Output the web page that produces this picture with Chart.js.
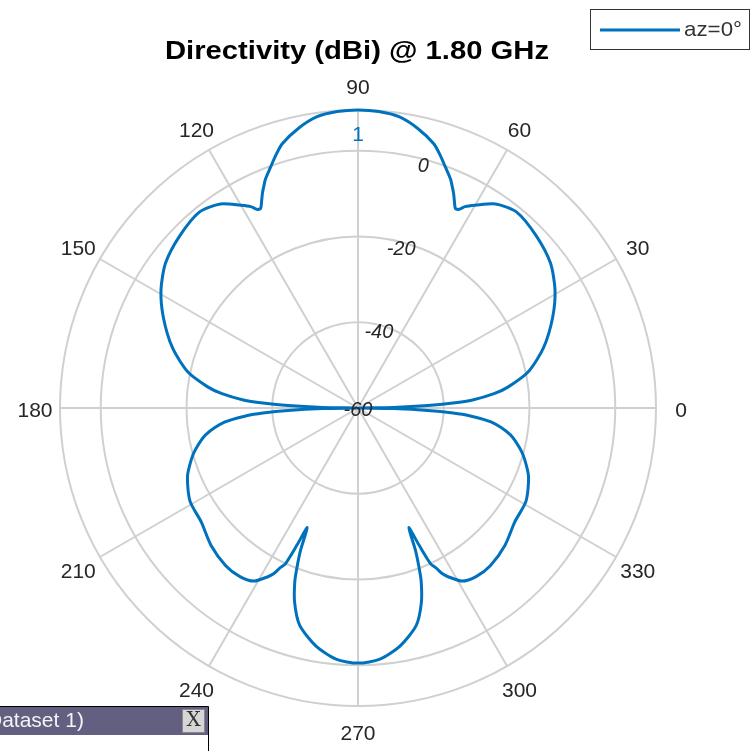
<!DOCTYPE html>
<html>
<head>
<meta charset="utf-8">
<title>Directivity</title>
<script src="https://cdn.jsdelivr.net/npm/chart.js@4.4.1/dist/chart.umd.min.js"></script>
<style>
    html, body { margin: 0; padding: 0; background: #fff; }
</style>
</head>
<body>
<canvas id="canvas" width="752" height="751"></canvas>
<script>
// Azimuth cut of the directivity pattern, degrees counter-clockwise from +x
var azimuth = [
    0, 1, 2, 3, 4, 6, 8, 12, 18, 25, 31, 37, 44, 51, 56, 60, 62, 63, 64, 65,
    66, 67, 68, 70, 72, 74, 78, 82, 86, 90,
    94, 98, 102, 106, 108, 110, 112, 113, 114, 115, 116, 117, 118, 120, 124, 129, 136, 143, 149, 155,
    162, 168, 172, 174, 176, 177, 178, 179, 180,
    181, 182, 183, 184, 186, 190, 194, 197, 202, 209, 216, 223, 230, 235, 239, 242, 243, 244, 245, 246,
    247, 248, 249, 250, 252, 255, 260, 265, 270,
    275, 280, 285, 288, 290, 291, 292, 293, 294, 295, 296, 297, 298, 301, 305, 310, 317, 324, 331, 338,
    343, 346, 350, 354, 356, 357, 358, 359
];
// dBi, clipped at the -60 floor of the plot
var directivity = [
    -60, -51.8, -43.7, -37.8, -33.2, -28.1, -24.6, -19.4, -14.5, -9.9, -6.4, -3.8, -2.2, -1.2, -2.6, -5.4, -6.8, -8.0, -8.2, -6.8,
    -5.2, -3.8, -2.4, -0.3, 2.0, 4.1, 6.7, 8.6, 9.3, 9.5,
    9.3, 8.6, 6.7, 4.1, 2.0, -0.3, -2.4, -3.8, -5.2, -6.8, -8.2, -8.0, -6.8, -5.4, -2.6, -1.2, -2.2, -3.8, -6.4, -9.9,
    -14.5, -19.4, -24.6, -28.1, -33.2, -37.8, -43.7, -51.8, -60,
    -51.8, -43.7, -37.8, -33.9, -28.8, -23.9, -21.1, -19.4, -17.1, -15.2, -14.8, -13.1, -12.0, -12.0, -12.9, -15.5, -16.6, -18.5, -19.9, -25.0,
    -29.7, -24.3, -20.4, -16.9, -12.2, -7.5, -3.6, -1.2, -0.5,
    -1.2, -3.6, -7.5, -12.2, -16.9, -20.4, -24.3, -29.7, -25.0, -19.9, -18.5, -16.6, -15.5, -12.9, -12.0, -12.0, -13.1, -14.8, -15.2, -17.1,
    -19.4, -21.1, -23.9, -28.8, -33.9, -37.8, -43.7, -51.8
];
var magTicks = [-60, -40, -20, 0];
var magMin = -60;
var magMax = 9.5;
var angleTicks = [0, 30, 60, 90, 120, 150, 180, 210, 240, 270, 300, 330];

var BLUE = '#0072BD';
var GRID = '#d0d0d0';
var TEXT = '#262626';
var FONT = '"Liberation Sans", Arial, sans-serif';

// radar spokes run clockwise from the top, one per degree
function spokeFor(az) {
    return (90 - az + 360) % 360;
}
var labels = [];
var values = [];
for (var i = 0; i < 360; i++) {
    labels.push(String((90 - i + 360) % 360));
    values.push(null);
}
azimuth.forEach(function (az, k) {
    values[spokeFor(az)] = directivity[k];
});

// text squeezed or stretched to a given width
function fitText(ctx, text, x, y, width) {
    var w = ctx.measureText(text).width;
    ctx.save();
    ctx.translate(x, y);
    ctx.scale(width / w, 1);
    ctx.fillText(text, 0, 0);
    ctx.restore();
}

var decorations = {
    id: 'decorations',
    afterDraw: function (chart) {
        var ctx = chart.ctx;
        var r = chart.scales.r;
        ctx.save();
        ctx.textAlign = 'center';
        ctx.textBaseline = 'middle';

        // azimuth labels outside the rim
        ctx.fillStyle = TEXT;
        ctx.font = '21px ' + FONT;
        angleTicks.forEach(function (az) {
            var p = r.getPointPosition(spokeFor(az), r.drawingArea + 25);
            ctx.fillText(String(az), p.x, p.y + 3);
        });

        // magnitude labels along the 75 degree spoke
        ctx.font = 'italic 20px ' + FONT;
        magTicks.forEach(function (v) {
            var d = Math.max(0, r.getDistanceFromCenterForValue(v) - 5);
            var p = r.getPointPosition(spokeFor(75), d);
            ctx.fillText(String(v), p.x, p.y + 2);
        });

        // peak marker
        var peak = Math.max.apply(null, directivity);
        var pk = r.getPointPosition(spokeFor(azimuth[directivity.indexOf(peak)]),
            r.getDistanceFromCenterForValue(peak) - 24);
        ctx.fillStyle = BLUE;
        ctx.font = '21px ' + FONT;
        ctx.fillText('1', pk.x, pk.y + 1);

        // title
        ctx.fillStyle = '#000';
        ctx.font = 'bold 25px ' + FONT;
        fitText(ctx, 'Directivity (dBi) @ 1.80 GHz', 357, 52, 384);

        // legend
        ctx.fillStyle = '#fff';
        ctx.fillRect(590.5, 9.5, 159, 40);
        ctx.strokeStyle = '#333';
        ctx.lineWidth = 1;
        ctx.strokeRect(590.5, 9.5, 159, 40);
        ctx.strokeStyle = BLUE;
        ctx.lineWidth = 3;
        ctx.beginPath();
        ctx.moveTo(600, 30);
        ctx.lineTo(680, 30);
        ctx.stroke();
        ctx.fillStyle = '#333';
        ctx.font = '21px ' + FONT;
        ctx.textAlign = 'left';
        fitText(ctx, 'az=0\u00b0', 684, 30, 58);

        // data tip window, bottom left
        ctx.fillStyle = '#fff';
        ctx.fillRect(0, 706, 209, 45);
        ctx.fillStyle = '#625f80';
        ctx.fillRect(0, 707, 208, 28);
        ctx.strokeStyle = '#000';
        ctx.lineWidth = 1;
        ctx.beginPath();
        ctx.moveTo(0, 706.5);
        ctx.lineTo(208.5, 706.5);
        ctx.lineTo(208.5, 751);
        ctx.stroke();
        ctx.fillStyle = '#f2f2f7';
        ctx.font = '21px ' + FONT;
        ctx.fillText('Dataset 1)', -13, 721);
        ctx.fillStyle = '#d6d6d6';
        ctx.fillRect(182, 709, 23, 24);
        ctx.strokeStyle = '#8a8a8a';
        ctx.strokeRect(182.5, 709.5, 22, 23);
        ctx.fillStyle = '#333';
        ctx.textAlign = 'center';
        ctx.font = '20px "DejaVu Serif", serif';
        ctx.fillText('X', 193.5, 721);
        ctx.restore();
    }
};

var config = {
    type: 'radar',
    data: {
        labels: labels,
        datasets: [{
            label: 'az=0\u00b0',
            data: values,
            borderColor: BLUE,
            borderWidth: 3,
            pointRadius: 0,
            fill: false,
            spanGaps: true,
            tension: 0.25
        }]
    },
    options: {
        responsive: false,
        animation: false,
        layout: {
            padding: { left: 60, top: 110, right: 96, bottom: 45 }
        },
        plugins: {
            legend: { display: false },
            tooltip: { enabled: false }
        },
        scales: {
            r: {
                min: magMin,
                max: magMax,
                startAngle: 0,
                afterBuildTicks: function (scale) {
                    scale.ticks = magTicks.concat([magMax]).map(function (v) {
                        return { value: v };
                    });
                },
                ticks: { display: false },
                pointLabels: { display: false },
                grid: { circular: true, color: GRID, lineWidth: 2 },
                angleLines: {
                    color: GRID,
                    lineWidth: function (ctx) {
                        return ctx.index % 30 === 0 ? 2 : 0;
                    }
                }
            }
        }
    },
    plugins: [decorations]
};

window.onload = function () {
    window.myPattern = new Chart(document.getElementById('canvas'), config);
};
</script>
</body>
</html>
